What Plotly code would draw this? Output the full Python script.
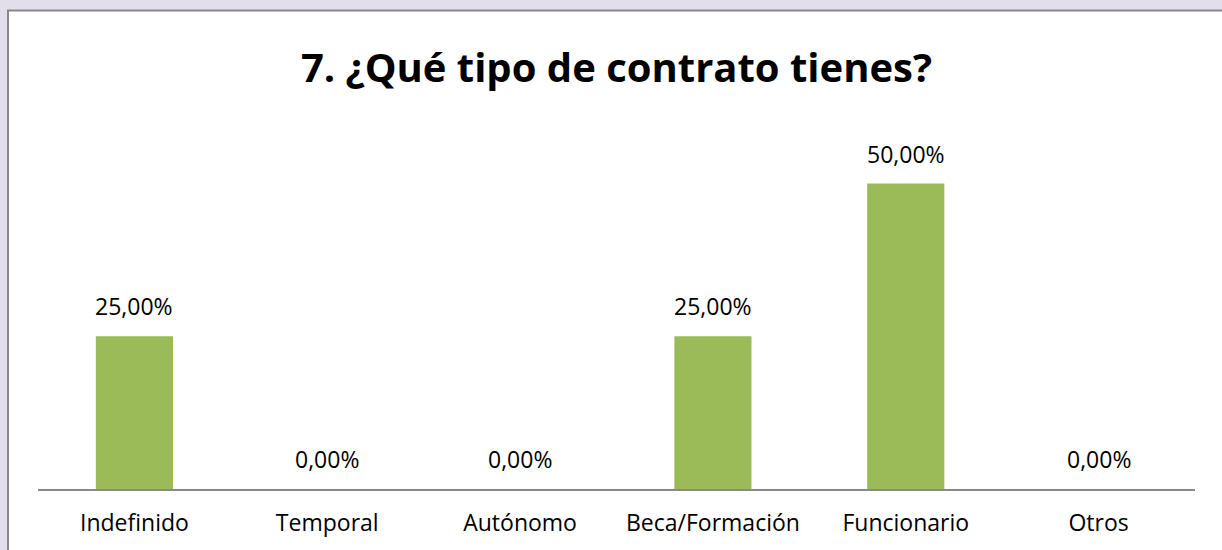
import plotly.graph_objects as go

categories = ["Indefinido", "Temporal", "Autónomo", "Beca/Formación", "Funcionario", "Otros"]
values = [0.25, 0.0, 0.0, 0.25, 0.50, 0.0]
labels = ["25,00%", "0,00%", "0,00%", "25,00%", "50,00%", "0,00%"]
title = "7. ¿Qué tipo de contrato tienes?"

W, H = 1222, 550
ml, mr, mt, mb = 38, 27, 100, 59
ph = H - mt - mb
ymax = ph / 614.0
FONT = "Open Sans"

fig = go.Figure()
fig.add_trace(go.Bar(x=categories, y=values, marker=dict(color="#9BBB59", line=dict(width=0)),
                     hoverinfo="skip"))

for c, v, t in zip(categories, values, labels):
    fig.add_annotation(x=c, y=v, text=t, showarrow=False, yanchor="bottom", yshift=12,
                       font=dict(family=FONT, size=23, color="#000000"))

pw = W - ml - mr
fig.add_shape(type="rect", xref="paper", yref="paper",
              x0=(8 - ml) / pw, x1=(W + 20 - ml) / pw,
              y0=(H - mb - (H + 20)) / ph, y1=(H - mb - 10) / ph,
              fillcolor="white", line=dict(color="#888888", width=2), layer="below")

fig.update_layout(
    width=W, height=H,
    margin=dict(l=ml, r=mr, t=mt, b=mb),
    paper_bgcolor="#E2DEEC",
    plot_bgcolor="rgba(0,0,0,0)",
    bargap=0.6,
    showlegend=False,
    title=dict(text="<b>" + title + "</b>", x=0.5, xref="paper", y=1 - 68 / H, yanchor="middle",
               font=dict(family=FONT, size=40, color="#000000")),
    xaxis=dict(showline=True, linecolor="#898989", linewidth=2, ticks="", showgrid=False,
               tickfont=dict(family=FONT, size=23, color="#000000"), ticklabelstandoff=12,
               fixedrange=True),
    yaxis=dict(range=[0, ymax], visible=False, showgrid=False, zeroline=False, fixedrange=True),
)

fig.write_html("out.html", config={"displayModeBar": False},
               post_script="document.body.style.margin='0';document.body.style.overflow='hidden';")
